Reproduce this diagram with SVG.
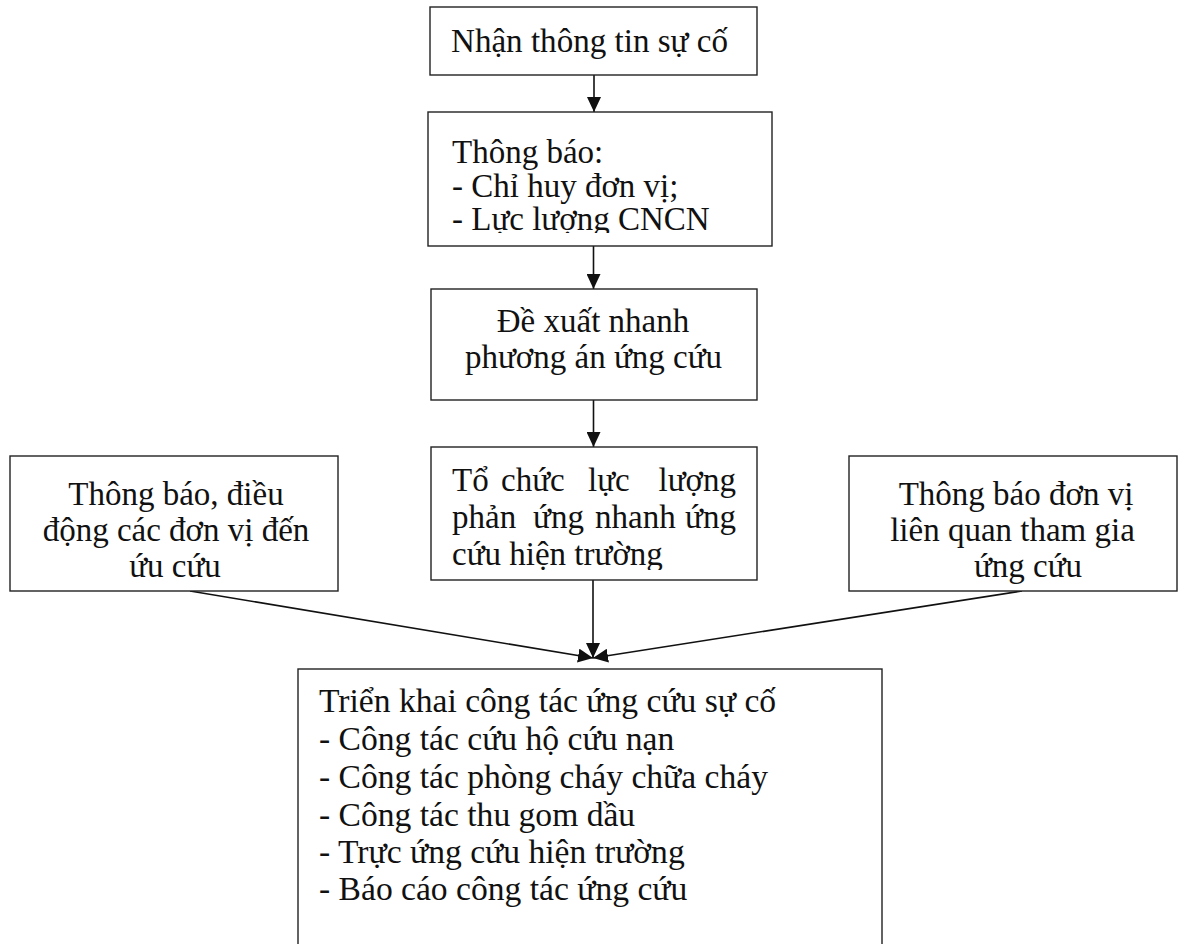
<svg xmlns="http://www.w3.org/2000/svg" width="1180" height="944" viewBox="0 0 1180 944">
  <style>
    .box { fill: #ffffff; stroke: #222222; stroke-width: 1.4; }
    .txt { font-family: "Liberation Serif", "Times New Roman", serif; font-size: 33px; fill: #111111; }
    .big { font-size: 33.6px; }
    .mid { text-anchor: middle; }
    .end { text-anchor: end; }
    .link { stroke: #111111; stroke-width: 1.6; fill: none; marker-end: url(#head); }
  </style>
  <defs>
    <marker id="head" markerUnits="userSpaceOnUse" markerWidth="15" markerHeight="14" refX="15" refY="7" orient="auto">
      <path d="M0,0 L15,7 L0,14 z" fill="#111111"/>
    </marker>
    <!-- the last lines of these two boxes are cut off at the text frame -->
    <clipPath id="clip-notify">
      <rect x="428" y="112" width="344" height="121"/>
    </clipPath>
    <clipPath id="clip-organise">
      <rect x="430" y="447" width="327" height="123"/>
    </clipPath>
  </defs>
  <rect width="1180" height="944" fill="#ffffff"/>

  <g id="connectors">
    <line class="link" x1="594" y1="75" x2="594" y2="112"/>
    <line class="link" x1="593.5" y1="246" x2="593.5" y2="289"/>
    <line class="link" x1="593.5" y1="400" x2="593.5" y2="447"/>
    <line class="link" x1="593" y1="580" x2="593" y2="658"/>
    <line class="link" x1="190" y1="591" x2="593" y2="658"/>
    <line class="link" x1="1022" y1="591" x2="593" y2="658"/>
  </g>

  <g id="node-receive">
    <rect class="box" x="430" y="7" width="327" height="68"/>
    <text class="txt" x="451" y="52" textLength="277" lengthAdjust="spacingAndGlyphs">Nhận thông tin sự cố</text>
  </g>

  <g id="node-notify">
    <rect class="box" x="428" y="112" width="344" height="134"/>
    <g clip-path="url(#clip-notify)">
      <text class="txt" x="452" y="163">Thông báo:</text>
      <text class="txt" x="452" y="197">- Chỉ huy đơn vị;</text>
      <text class="txt" x="452" y="230">- Lực lượng CNCN</text>
    </g>
  </g>

  <g id="node-propose">
    <rect class="box" x="431" y="289" width="326" height="111"/>
    <text class="txt mid" x="593" y="332">Đề xuất nhanh</text>
    <text class="txt mid" x="593.5" y="368">phương án ứng cứu</text>
  </g>

  <g id="node-organise">
    <rect class="box" x="431" y="447" width="326" height="133"/>
    <g clip-path="url(#clip-organise)">
      <text class="txt" x="452" y="491">Tổ</text>
      <text class="txt" x="501" y="491">chức</text>
      <text class="txt" x="588" y="491">lực</text>
      <text class="txt end" x="736" y="491">lượng</text>
      <text class="txt" x="452" y="528">phản</text>
      <text class="txt" x="533" y="528">ứng</text>
      <text class="txt" x="595" y="528">nhanh</text>
      <text class="txt end" x="736" y="528">ứng</text>
      <text class="txt" x="452" y="565">cứu hiện trường</text>
    </g>
  </g>

  <g id="node-dispatch">
    <rect class="box" x="10" y="456" width="328" height="135"/>
    <text class="txt mid" x="176" y="505">Thông báo, điều</text>
    <text class="txt mid" x="176" y="541">động các đơn vị đến</text>
    <text class="txt mid" x="175" y="577">ứu cứu</text>
  </g>

  <g id="node-related">
    <rect class="box" x="849" y="456" width="328" height="135"/>
    <text class="txt mid" x="1016" y="505">Thông báo đơn vị</text>
    <text class="txt mid" x="1012.5" y="541">liên quan tham gia</text>
    <text class="txt mid" x="1028" y="577">ứng cứu</text>
  </g>

  <g id="node-deploy">
    <rect class="box" x="298" y="669" width="584" height="290"/>
    <text class="txt big" x="319" y="712">Triển khai công tác ứng cứu sự cố</text>
    <text class="txt big" x="319" y="750">- Công tác cứu hộ cứu nạn</text>
    <text class="txt big" x="319" y="788">- Công tác phòng cháy chữa cháy</text>
    <text class="txt big" x="319" y="826">- Công tác thu gom dầu</text>
    <text class="txt big" x="319" y="863">- Trực ứng cứu hiện trường</text>
    <text class="txt big" x="319" y="900">- Báo cáo công tác ứng cứu</text>
  </g>
</svg>
